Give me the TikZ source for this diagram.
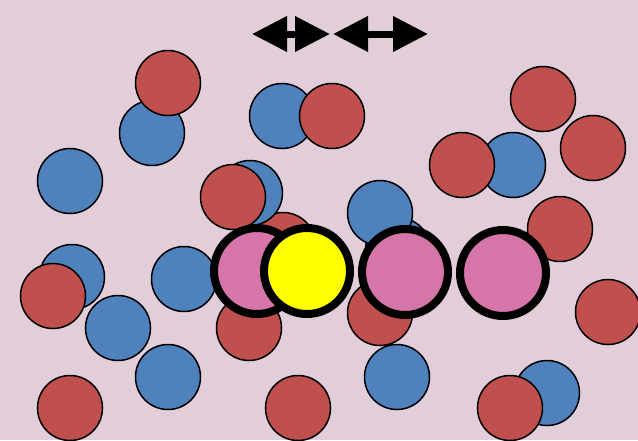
\documentclass[tikz,border=0pt]{standalone}
\usetikzlibrary{arrows.meta}
\definecolor{bg}{RGB}{226,206,218}
\definecolor{cred}{RGB}{192,80,77}
\definecolor{cblue}{RGB}{79,129,189}
\definecolor{cpink}{RGB}{214,117,168}
\definecolor{cyel}{RGB}{255,255,0}
\tikzset{
  disc/.style={circle, draw=black, line width=1.5pt, minimum size=65pt, inner sep=0pt},
  rdisc/.style={disc, fill=cred},
  bdisc/.style={disc, fill=cblue},
  bigdisc/.style={circle, draw=black, line width=8pt, minimum size=86pt, inner sep=0pt},
  pdisc/.style={bigdisc, fill=cpink},
  ydisc/.style={bigdisc, fill=cyel},
  dblarrow/.style={line width=7pt, {Triangle[length=35pt,width=34pt]}-{Triangle[length=35pt,width=34pt]}}
}
\begin{document}
\begin{tikzpicture}[x=1pt,y=-1pt]
\fill[bg] (0,0) rectangle (638,440);
\useasboundingbox (0,0) rectangle (638,440);
% top double arrows
\coordinate (a1) at (252,34);
\coordinate (a2) at (330,34);
\coordinate (a3) at (333,34);
\coordinate (a4) at (428,34);
\draw[dblarrow] (a1) -- (a2);
\draw[dblarrow] (a3) -- (a4);
% background discs
\node[bdisc] (b1) at (152,133) {};
\node[rdisc] (r1) at (168,83) {};
\node[bdisc] (b2) at (282,116) {};
\node[rdisc] (r2) at (332,116) {};
\node[bdisc] (b3) at (70,181) {};
\node[rdisc] (r3) at (283,245) {};
\node[bdisc] (b4) at (250,193) {};
\node[rdisc] (r4) at (233,197) {};
\node[rdisc] (r5) at (543,99) {};
\node[rdisc] (r6) at (593,148) {};
\node[bdisc] (b5) at (513,165) {};
\node[rdisc] (r7) at (462,165) {};
\node[bdisc] (b6) at (398,250) {};
\node[bdisc] (b7) at (380,213) {};
\node[rdisc] (r8) at (560,229) {};
\node[bdisc] (b8) at (72,277) {};
\node[rdisc] (r9) at (53,296) {};
\node[bdisc] (b9) at (118,328) {};
\node[bdisc] (b10) at (184,279) {};
\node[bdisc] (b11) at (168,377) {};
\node[rdisc] (r10) at (70,408) {};
\node[rdisc] (r11) at (249,328) {};
\node[rdisc] (r12) at (298,408) {};
\node[rdisc] (r13) at (380,313) {};
\node[rdisc] (r14) at (608,312) {};
\node[bdisc] (b12) at (397,377) {};
\node[bdisc] (b13) at (547,393) {};
\node[rdisc] (r15) at (510,408) {};
% highlighted discs
\node[pdisc] (p1) at (257,271) {};
\node[ydisc] (y1) at (307,271) {};
\node[pdisc] (p2) at (405,272) {};
\node[pdisc] (p3) at (503,273) {};
\end{tikzpicture}
\end{document}
